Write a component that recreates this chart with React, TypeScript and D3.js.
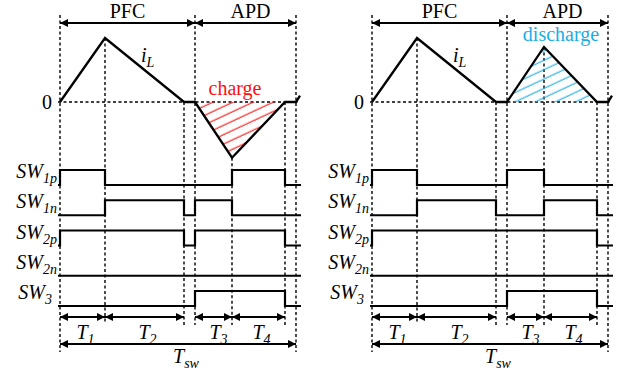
import React, { useEffect, useRef } from 'react';
import * as d3 from 'd3';

// time marks of one switching period (arbitrary units)
const tMarks = [0, 45, 124, 135, 172, 225, 236];
const phaseLabels = ['PFC', 'APD'];
const phaseBounds = [[0, 135], [135, 236]];

// inductor current i_L (normalised)
const iLTimes = [0, 45, 124, 135, 172, 225, 236, 240];
const iLCharge = [0, 1, 0, 0, -0.87, 0, 0, 0.1];
const iLDischarge = [0, 1, 0, 0, 0.86, 0, 0, 0.1];

// gate signals: toggle times and levels
const swNames = ['1p', '1n', '2p', '2n', '3'];
const swTimesLeft = [
  [-2, 0, 45, 172, 225, 241],
  [-2, 45, 124, 135, 172, 241],
  [-2, 0, 124, 135, 225, 241],
  [-2, 241],
  [-2, 135, 225, 241],
];
const swLevelsLeft = [
  [0, 1, 0, 1, 0, 0],
  [0, 1, 0, 1, 0, 0],
  [0, 1, 0, 1, 0, 0],
  [0, 0],
  [0, 1, 0, 0],
];
const swTimesRight = [
  [-2, 0, 45, 135, 172, 241],
  [-2, 45, 124, 172, 225, 241],
  [-2, 0, 225, 241],
  [-2, 241],
  [-2, 135, 225, 241],
];
const swLevelsRight = [
  [0, 1, 0, 1, 0, 0],
  [0, 1, 0, 1, 0, 0],
  [0, 1, 0, 0],
  [0, 0],
  [0, 1, 0, 0],
];

// interval labels
const intervalNames = ['1', '2', '3', '4'];
const intervalBounds = [[0, 45], [45, 124], [135, 172], [172, 225]];

const FONT = "'Liberation Serif', Tinos, 'Times New Roman', serif";
const RED = '#ff1010';
const CYAN = '#1aaee5';

const App: React.FC = () => {
  const svgRef = useRef<SVGSVGElement | null>(null);

  useEffect(() => {
    if (!svgRef.current) return;
    const svg = d3.select(svgRef.current);
    svg.selectAll('*').remove();

    const defs = svg.append('defs');
    const marker = defs.append('marker')
      .attr('id', 'arr')
      .attr('viewBox', '0 0 10 10')
      .attr('refX', 10).attr('refY', 5)
      .attr('markerWidth', 9).attr('markerHeight', 8)
      .attr('markerUnits', 'userSpaceOnUse')
      .attr('orient', 'auto-start-reverse');
    marker.append('path').attr('d', 'M0,0 L10,5 L0,10 Z').attr('fill', '#000');

    [['hatchRed', RED], ['hatchCyan', CYAN]].forEach(([id, c]) => {
      const p = defs.append('pattern')
        .attr('id', id)
        .attr('patternUnits', 'userSpaceOnUse')
        .attr('width', 20).attr('height', 8.5)
        .attr('patternTransform', 'rotate(-25)');
      p.append('line')
        .attr('x1', 0).attr('x2', 20).attr('y1', 4).attr('y2', 4)
        .attr('stroke', c).attr('stroke-width', 1.1);
    });

    const y = d3.scaleLinear().domain([-1, 1]).range([166, 38]);
    const row = d3.scalePoint<string>().domain(swNames).range([185, 306]);
    const lvl = d3.scaleLinear().domain([0, 1]).range([0, -15]);

    const dotted = (g: any, x1: number, y1: number, x2: number, y2: number) =>
      g.append('line')
        .attr('x1', x1).attr('y1', y1).attr('x2', x2).attr('y2', y2)
        .attr('stroke', '#000').attr('stroke-width', 1.4)
        .attr('stroke-dasharray', '3,2.5');

    const arrow = (g: any, x1: number, x2: number, yy: number) =>
      g.append('line')
        .attr('x1', x1).attr('x2', x2).attr('y1', yy).attr('y2', yy)
        .attr('stroke', '#000').attr('stroke-width', 2)
        .attr('marker-start', 'url(#arr)').attr('marker-end', 'url(#arr)');

    const subText = (g: any, x: number, yy: number, main: string, sub: string, anchor: string) => {
      const t = g.append('text')
        .attr('x', x).attr('y', yy)
        .attr('text-anchor', anchor)
        .style('font-family', FONT)
        .style('font-style', 'italic')
        .style('font-size', '20px');
      t.append('tspan').text(main);
      t.append('tspan').attr('dy', 5).style('font-size', '14px').text(sub);
      return t;
    };

    const plainText = (g: any, x: number, yy: number, s: string, fill = '#000') =>
      g.append('text')
        .attr('x', x).attr('y', yy)
        .attr('text-anchor', 'middle')
        .attr('fill', fill)
        .style('font-family', FONT)
        .style('font-size', '20px')
        .text(s);

    const panel = (off: number, iL: number[], swT: number[][], swL: number[][], mode: 'charge' | 'discharge') => {
      const g = svg.append('g');
      const x = d3.scaleLinear().domain([0, 236]).range([60 + off, 296 + off]);
      const ext = y(iL[4]);

      // vertical guide lines
      const tops = [15, y(1), y(0), 15, ext, y(0), 15];
      const bottoms = [352, 322, 325, 325, 325, 325, 352];
      tMarks.forEach((t, i) => dotted(g, x(t), tops[i], x(t), bottoms[i]));

      // zero line
      dotted(g, x(-2), y(0), x(240), y(0));
      plainText(g, x(-13), y(0) + 7, '0');

      // phase arrows
      phaseBounds.forEach(([a, b], i) => {
        arrow(g, x(a), x(b), 23);
        plainText(g, (x(a) + x(b)) / 2 + (i === 1 ? 5 : 0), 18, phaseLabels[i]);
      });

      // hatched area
      const area = d3.area<number>()
        .x(i => x(iLTimes[i]))
        .y0(y(0))
        .y1(i => y(iL[i]));
      g.append('path')
        .attr('d', area([3, 4, 5]))
        .attr('fill', mode === 'charge' ? 'url(#hatchRed)' : 'url(#hatchCyan)');

      // i_L waveform
      const line = d3.line<number>().x(i => x(iLTimes[i])).y(i => y(iL[i]));
      g.append('path')
        .attr('d', line(d3.range(iLTimes.length)))
        .attr('fill', 'none').attr('stroke', '#000')
        .attr('stroke-width', 2.3).attr('stroke-linejoin', 'miter');

      subText(g, x(81), 62, 'i', 'L', 'start');

      plainText(g, mode === 'charge' ? x(175) : x(189), mode === 'charge' ? 95 : 41, mode,
        mode === 'charge' ? RED : CYAN);

      // gate signals
      swNames.forEach((name, r) => {
        const base = row(name)!;
        const step = d3.line<number>()
          .x(i => x(swT[r][i]))
          .y(i => base + lvl(swL[r][i]))
          .curve(d3.curveStepAfter);
        g.append('path')
          .attr('d', step(d3.range(swT[r].length)))
          .attr('fill', 'none').attr('stroke', '#000')
          .attr('stroke-width', 2.2);
        subText(g, x(name === '3' ? -8 : -3), base - 7, 'SW', name, 'end');
      });

      // interval arrows
      intervalBounds.forEach(([a, b], i) => {
        arrow(g, x(a), x(b), 317);
        subText(g, (x(a) + x(b)) / 2 + (i === 2 ? 5 : 3), 339, 'T', intervalNames[i], 'middle');
      });
      arrow(g, x(0), x(236), 344);
      subText(g, x(126), 363, 'T', 'sw', 'middle');
    };

    panel(0, iLCharge, swTimesLeft, swLevelsLeft, 'charge');
    panel(312, iLDischarge, swTimesRight, swLevelsRight, 'discharge');
  }, []);

  return (
    <div style={{ position: 'absolute', left: 0, top: 0, width: 629, height: 374, background: '#fff' }}>
      <svg ref={svgRef} width={629} height={374} style={{ display: 'block' }} />
    </div>
  );
};

export default App;
